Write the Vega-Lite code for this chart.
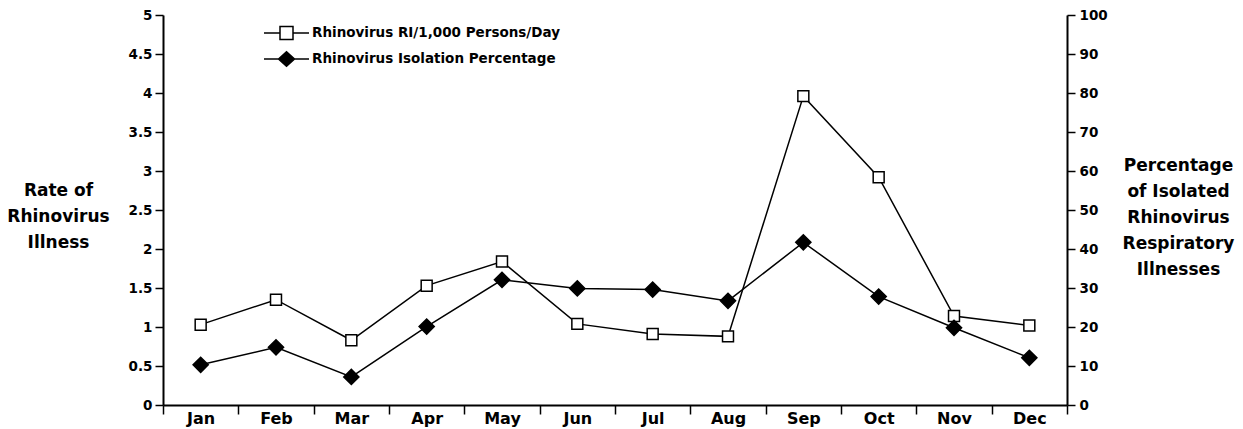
{
  "$schema": "https://vega.github.io/schema/vega-lite/v6.json",
  "width": 904,
  "height": 390,
  "autosize": {"type": "none"},
  "padding": {"left": 163, "top": 15, "right": 176, "bottom": 24},
  "background": "white",
  "config": {
    "view": {"stroke": null},
    "axis": {
      "domainColor": "black", "domainWidth": 2, "tickColor": "black", "tickWidth": 1.5,
      "labelColor": "black", "titleColor": "black", "labelFont": "DejaVu Sans", "labelFontWeight": "bold",
      "titleFont": "DejaVu Sans", "titleFontWeight": "bold", "grid": false
    },
    "legend": {
      "orient": "none", "legendX": 112.5, "legendY": 7, "padding": 0,
      "symbolSize": 400, "labelOffset": 14.5, "rowPadding": 5, "labelLimit": 0,
      "labelFont": "DejaVu Sans", "labelFontWeight": "bold", "labelFontSize": 13.5, "labelColor": "black",
      "symbolStrokeWidth": 1.5, "symbolOpacity": 1
    }
  },
  "data": {
    "values": [
      {"month": "Jan", "series": "Rhinovirus RI/1,000 Persons/Day", "value": 1.03},
      {"month": "Feb", "series": "Rhinovirus RI/1,000 Persons/Day", "value": 1.35},
      {"month": "Mar", "series": "Rhinovirus RI/1,000 Persons/Day", "value": 0.83},
      {"month": "Apr", "series": "Rhinovirus RI/1,000 Persons/Day", "value": 1.53},
      {"month": "May", "series": "Rhinovirus RI/1,000 Persons/Day", "value": 1.84},
      {"month": "Jun", "series": "Rhinovirus RI/1,000 Persons/Day", "value": 1.04},
      {"month": "Jul", "series": "Rhinovirus RI/1,000 Persons/Day", "value": 0.91},
      {"month": "Aug", "series": "Rhinovirus RI/1,000 Persons/Day", "value": 0.88},
      {"month": "Sep", "series": "Rhinovirus RI/1,000 Persons/Day", "value": 3.96},
      {"month": "Oct", "series": "Rhinovirus RI/1,000 Persons/Day", "value": 2.92},
      {"month": "Nov", "series": "Rhinovirus RI/1,000 Persons/Day", "value": 1.14},
      {"month": "Dec", "series": "Rhinovirus RI/1,000 Persons/Day", "value": 1.02},
      {"month": "Jan", "series": "Rhinovirus Isolation Percentage", "value": 10.3},
      {"month": "Feb", "series": "Rhinovirus Isolation Percentage", "value": 14.8},
      {"month": "Mar", "series": "Rhinovirus Isolation Percentage", "value": 7.2},
      {"month": "Apr", "series": "Rhinovirus Isolation Percentage", "value": 20.1},
      {"month": "May", "series": "Rhinovirus Isolation Percentage", "value": 32.1},
      {"month": "Jun", "series": "Rhinovirus Isolation Percentage", "value": 29.9},
      {"month": "Jul", "series": "Rhinovirus Isolation Percentage", "value": 29.6},
      {"month": "Aug", "series": "Rhinovirus Isolation Percentage", "value": 26.7},
      {"month": "Sep", "series": "Rhinovirus Isolation Percentage", "value": 41.7},
      {"month": "Oct", "series": "Rhinovirus Isolation Percentage", "value": 27.8},
      {"month": "Nov", "series": "Rhinovirus Isolation Percentage", "value": 19.8},
      {"month": "Dec", "series": "Rhinovirus Isolation Percentage", "value": 12.1}
    ]
  },
  "encoding": {
    "x": {
      "field": "month", "type": "ordinal",
      "sort": ["Jan","Feb","Mar","Apr","May","Jun","Jul","Aug","Sep","Oct","Nov","Dec"],
      "scale": {"type": "band", "paddingInner": 0, "paddingOuter": 0},
      "axis": {"title": null, "labelAngle": 0, "tickBand": "extent", "tickSize": 9, "labelPadding": -3.5, "labelFontSize": 16, "domainWidth": 2}
    }
  },
  "layer": [
    {
      "transform": [{"filter": "datum.series === 'Rhinovirus RI/1,000 Persons/Day'"}],
      "encoding": {
        "y": {
          "field": "value", "type": "quantitative",
          "scale": {"domain": [0, 5], "nice": false, "zero": true},
          "axis": {
            "orient": "left", "values": [0,0.5,1,1.5,2,2.5,3,3.5,4,4.5,5], "format": ".1~f",
            "tickSize": 8, "labelPadding": 3, "labelFontSize": 13.5,
            "title": ["Rate of", "Rhinovirus", "Illness"], "titleAngle": 0, "titleFontSize": 17,
            "titleX": -105, "titleY": 180, "titleAlign": "center", "titleBaseline": "alphabetic", "titleLineHeight": 26
          }
        }
      },
      "layer": [
        {"mark": {"type": "line", "color": "black", "strokeWidth": 1.5}},
        {"mark": {"type": "point", "shape": "square", "filled": true, "fill": "white", "stroke": "black", "strokeWidth": 1.5, "size": 120, "opacity": 1}},
        {
          "transform": [{"filter": "datum.value < -1"}],
          "mark": {"type": "point", "filled": true, "strokeWidth": 1.5, "size": 400, "opacity": 1},
          "encoding": {
            "shape": {
              "field": "series", "type": "nominal", "title": null,
              "scale": {"domain": ["Rhinovirus RI/1,000 Persons/Day", "Rhinovirus Isolation Percentage"], "range": ["M-2.25,0H-0.65M0.65,0H2.25M-0.65,-0.65H0.65V0.65H-0.65Z", "M-2.25,0H-0.8M0.8,0H2.25M-0.8,0L0,-0.72L0.8,0L0,0.72Z"]}
            },
            "fill": {
              "field": "series", "type": "nominal", "title": null,
              "scale": {"domain": ["Rhinovirus RI/1,000 Persons/Day", "Rhinovirus Isolation Percentage"], "range": ["white", "black"]}
            },
            "stroke": {
              "field": "series", "type": "nominal", "title": null,
              "scale": {"domain": ["Rhinovirus RI/1,000 Persons/Day", "Rhinovirus Isolation Percentage"], "range": ["black", "black"]}
            }
          }
        }
      ]
    },
    {
      "transform": [{"filter": "datum.series === 'Rhinovirus Isolation Percentage'"}],
      "encoding": {
        "y": {
          "field": "value", "type": "quantitative",
          "scale": {"domain": [0, 100], "nice": false, "zero": true},
          "axis": {
            "orient": "right", "values": [0,10,20,30,40,50,60,70,80,90,100],
            "tickSize": 8, "labelPadding": 4, "labelFontSize": 13.5,
            "title": ["Percentage", "of Isolated", "Rhinovirus", "Respiratory", "Illnesses"], "titleAngle": 0, "titleFontSize": 17,
            "titleX": 111, "titleY": 155, "titleAlign": "center", "titleBaseline": "alphabetic", "titleLineHeight": 26
          }
        }
      },
      "layer": [
        {"mark": {"type": "line", "color": "black", "strokeWidth": 1.5}},
        {"mark": {"type": "point", "shape": "diamond", "filled": true, "fill": "black", "stroke": "black", "strokeWidth": 1.5, "size": 230, "opacity": 1}}
      ]
    }
  ],
  "resolve": {"scale": {"y": "independent"}}
}
